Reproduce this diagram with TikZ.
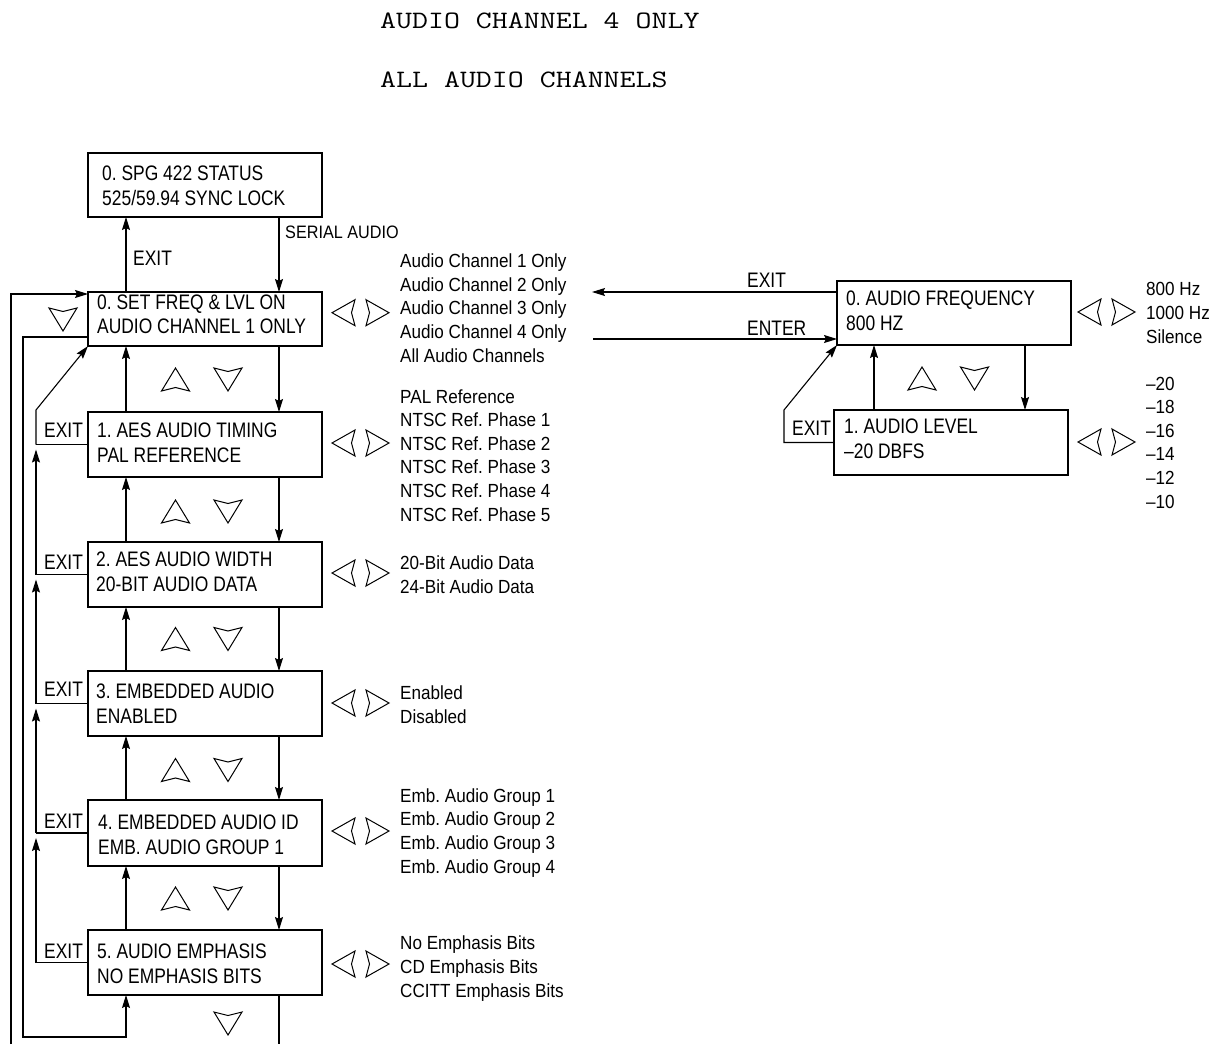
\documentclass[tikz,border=0pt]{standalone}
\usepackage{fontspec}
\usepackage{graphicx}
\newfontfamily\boxf{Liberation Sans}[FakeStretch=0.83]
\newfontfamily\optf{Liberation Sans}[FakeStretch=0.9]
\usetikzlibrary{arrows.meta}
\frenchspacing
\begin{document}
\begin{tikzpicture}[x=1pt,y=-1pt,
  box/.style={draw,line width=1.8pt,inner sep=0pt,outer sep=0pt,anchor=north west,minimum width=234pt},
  btxt/.style={font=\boxf\fontsize{21}{24.5}\selectfont\frenchspacing,align=left,anchor=base west,inner sep=0pt},
  otxt/.style={font=\optf\fontsize{19}{23.6}\selectfont\frenchspacing,align=left,anchor=base west,inner sep=0pt},
  ltxt/.style={font=\optf\fontsize{18}{22}\selectfont,anchor=base west,inner sep=0pt},
  mtxt/.style={font=\ttfamily\fontsize{25}{30}\selectfont,anchor=base west,inner sep=0pt},
  ln/.style={line width=1.1pt},
  arr/.style={ln,-{Stealth[length=13pt,width=8pt,inset=2pt]}},
  tri/.style={line width=1pt,line join=miter},
  lrtri/.pic={\draw[tri] (-28.5,0) -- (-5.5,-13) -- (-9,0) -- (-5.5,13) -- cycle;
              \draw[tri] (28.5,0) -- (5.5,-13) -- (9,0) -- (5.5,13) -- cycle;},
  uptri/.pic={\draw[tri] (0,-11.5) -- (14,11.5) -- (0,8) -- (-14,11.5) -- cycle;},
  dntri/.pic={\draw[tri] (0,11.5) -- (14,-11.5) -- (0,-8) -- (-14,-11.5) -- cycle;}
]
\useasboundingbox (0,0) rectangle (1214,1044);

% header
\node[mtxt] (h1) at (380,28) {\scalebox{1.24}[1]{AUDIO CHANNEL 4 ONLY}};
\node[mtxt] (h2) at (380,87) {\scalebox{1.24}[1]{ALL AUDIO CHANNELS}};

% boxes
\node[box,minimum height=64pt] (st) at (88,153) {};
\node[box,minimum height=54pt] (b0) at (88,292) {};
\node[box,minimum height=65pt] (b1) at (88,412) {};
\node[box,minimum height=65pt] (b2) at (88,542) {};
\node[box,minimum height=65pt] (b3) at (88,671) {};
\node[box,minimum height=66pt] (b4) at (88,800) {};
\node[box,minimum height=65pt] (b5) at (88,930) {};
\node[box,minimum height=64pt] (af) at (837,281) {};
\node[box,minimum height=65pt] (al) at (834,410) {};

% box texts (anchored at the baseline of the last line)
\node[btxt] (tst) at (102,205) {0. SPG 422 STATUS\\525/59.94 SYNC LOCK};
\node[btxt,font=\boxf\fontsize{21}{23.5}\selectfont] (tb0) at (97,333) {0. SET FREQ \& LVL ON\\AUDIO CHANNEL 1 ONLY};
\node[btxt] (tb1) at (97,462) {1. AES AUDIO TIMING\\PAL REFERENCE};
\node[btxt] (tb2) at (96,591) {2. AES AUDIO WIDTH\\20-BIT AUDIO DATA};
\node[btxt] (tb3) at (96,723) {3. EMBEDDED AUDIO\\ENABLED};
\node[btxt] (tb4) at (98,854) {4. EMBEDDED AUDIO ID\\EMB. AUDIO GROUP 1};
\node[btxt] (tb5) at (97,983) {5. AUDIO EMPHASIS\\NO EMPHASIS BITS};
\node[btxt] (taf) at (846,330) {0. AUDIO FREQUENCY\\800 HZ};
\node[btxt] (tal) at (844,458) {1. AUDIO LEVEL\\\textendash20 DBFS};

% option lists (anchored at the baseline of the last line)
\node[otxt] (o0) at (400,362) {Audio Channel 1 Only\\Audio Channel 2 Only\\Audio Channel 3 Only\\Audio Channel 4 Only\\All Audio Channels};
\node[otxt] (o1) at (400,521) {PAL Reference\\NTSC Ref. Phase 1\\NTSC Ref. Phase 2\\NTSC Ref. Phase 3\\NTSC Ref. Phase 4\\NTSC Ref. Phase 5};
\node[otxt] (o2) at (400,593) {20-Bit Audio Data\\24-Bit Audio Data};
\node[otxt] (o3) at (400,723) {Enabled\\Disabled};
\node[otxt] (o4) at (400,873) {Emb. Audio Group 1\\Emb. Audio Group 2\\Emb. Audio Group 3\\Emb. Audio Group 4};
\node[otxt] (o5) at (400,997) {No Emphasis Bits\\CD Emphasis Bits\\CCITT Emphasis Bits};
\node[otxt] (oaf) at (1146,343) {800 Hz\\1000 Hz\\Silence};
\node[otxt] (oal) at (1146,508) {\textendash20\\\textendash18\\\textendash16\\\textendash14\\\textendash12\\\textendash10};

% selector symbols
\pic at (360.5,312.7) {lrtri};
\pic at (360.5,443) {lrtri};
\pic at (360.5,573) {lrtri};
\pic at (360.5,703) {lrtri};
\pic at (360.5,831) {lrtri};
\pic at (360.5,964) {lrtri};
\pic at (1106.5,312) {lrtri};
\pic at (1106.5,442) {lrtri};
\foreach \yy in {379.5,511.5,639,770,898.5}{
  \pic at (175.5,\yy) {uptri};
  \pic at (228,\yy) {dntri};
}
\pic at (228,1023.5) {dntri};
\pic at (63,319.5) {dntri};
\pic at (922,378.5) {uptri};
\pic at (974.5,378.5) {dntri};

% column coordinates
\coordinate (ux) at (126,0);
\coordinate (dx) at (279,0);
\coordinate (lx) at (36,0);
\coordinate (rux) at (874,0);
\coordinate (rdx) at (1025,0);

% labels
\node[btxt] (lex0) at (133,265) {EXIT};
\node[ltxt] (lser) at (285,238) {SERIAL AUDIO};
\node[btxt] (lex1) at (44,437) {EXIT};
\node[btxt] (lex2) at (44,569) {EXIT};
\node[btxt] (lex3) at (44,696) {EXIT};
\node[btxt] (lex4) at (44,828) {EXIT};
\node[btxt] (lex5) at (44,958) {EXIT};
\node[btxt] (lexr) at (747,287) {EXIT};
\node[btxt] (lent) at (747,335) {ENTER};
\node[btxt] (lexa) at (792,435) {EXIT};

% vertical up/down connectors
\draw[arr] (b0.north -| ux) -- (st.south -| ux);
\draw[arr] (st.south -| dx) -- (b0.north -| dx);
\draw[arr] (b1.north -| ux) -- (b0.south -| ux);
\draw[arr] (b0.south -| dx) -- (b1.north -| dx);
\draw[arr] (b2.north -| ux) -- (b1.south -| ux);
\draw[arr] (b1.south -| dx) -- (b2.north -| dx);
\draw[arr] (b3.north -| ux) -- (b2.south -| ux);
\draw[arr] (b2.south -| dx) -- (b3.north -| dx);
\draw[arr] (b4.north -| ux) -- (b3.south -| ux);
\draw[arr] (b3.south -| dx) -- (b4.north -| dx);
\draw[arr] (b5.north -| ux) -- (b4.south -| ux);
\draw[arr] (b4.south -| dx) -- (b5.north -| dx);

% exit ladder
\coordinate (c1) at (b1.west -| lx);
\coordinate (c2) at (b2.west -| lx);
\coordinate (c3) at (b3.west -| lx);
\coordinate (c4) at (b4.west -| lx);
\coordinate (c5) at (b5.west -| lx);
\coordinate (cd) at (36,410);
\draw[ln] (b1.west) -- (c1);
\draw[ln] (b2.west) -- (c2);
\draw[ln] (b3.west) -- (c3);
\draw[ln] (b4.west) -- (c4);
\draw[ln] (b5.west) -- (c5);
\draw[arr,shorten >=5pt] (c5) -- (c4);
\draw[arr,shorten >=5pt] (c4) -- (c3);
\draw[arr,shorten >=5pt] (c3) -- (c2);
\draw[arr,shorten >=5pt] (c2) -- (c1);
\draw[arr] (c1) -- (cd) -- (b0.south west);

% wrap-around loops
\coordinate (mb) at (23,1037);
\draw[arr] ([yshift=9pt]b0.south west) -| (mb) -- (mb -| ux) -- (b5.south -| ux);
\coordinate (ob) at (11,1044);
\coordinate (db) at (279,1044);
\draw[ln] (b5.south -| dx) -- (db);
\draw[arr] (ob) |- ([yshift=-2pt]b0.north west);

% right-hand submenu
\coordinate (ex) at (592,292);
\coordinate (en) at (593,339);
\draw[arr] ([yshift=-11pt]af.north west) -- (ex);
\draw[arr] (en) -- ([yshift=6pt]af.south west);
\draw[arr] (al.north -| rux) -- (af.south -| rux);
\draw[arr] (af.south -| rdx) -- (al.north -| rdx);
\coordinate (rex) at (784,410);
\draw[arr] (al.west) -| (rex) -- (af.south west);
\end{tikzpicture}
\end{document}
